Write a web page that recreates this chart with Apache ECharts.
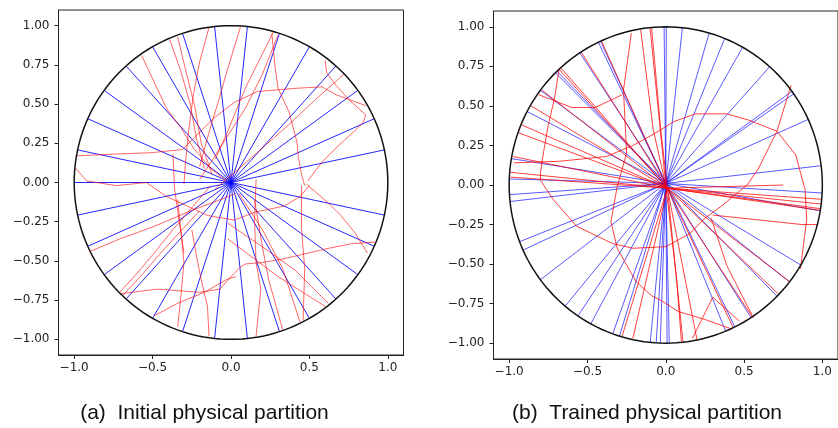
<!DOCTYPE html>
<html><head><meta charset="utf-8">
<script src="https://cdn.jsdelivr.net/npm/echarts@6/dist/echarts.min.js"></script>
<style>html,body{margin:0;padding:0;background:#fff}#c{width:838px;height:428px}</style>
</head><body><div id="c"></div>
<script>
// ---- axis ticks ----
const xTicks = [-1.0, -0.5, 0.0, 0.5, 1.0];
const yTicks = [-1.0, -0.75, -0.5, -0.25, 0.0, 0.25, 0.5, 0.75, 1.0];
const captions = ['(a)  Initial physical partition', '(b)  Trained physical partition'];

// ---- (a) initial partition ----
const leftBlueAngles = [12,24,36,48,60,72,84,96,108,120,132,144,156,168,180,192,204,216,228,240,252,264,276,288,300,312,324,336,348];
const leftBlueCenter = [0.0, 0.0];
const leftRed = [
 [[-0.99,0.17],[-0.77,0.18],[-0.51,0.19],[-0.31,0.21],[-0.22,0.30],[-0.11,0.41],[0.02,0.51],[0.17,0.58],[0.40,0.60],[0.58,0.61],[0.67,0.56],[0.86,0.49]],
 [[0.26,0.95],[0.28,0.75],[0.30,0.60],[0.37,0.45],[0.42,0.26],[0.43,0.16],[0.45,0.05],[0.47,-0.02]],
 [[0.30,0.94],[0.20,0.69],[0.09,0.47],[-0.02,0.30],[-0.12,0.14],[-0.20,0.02]],
 [[0.06,0.99],[-0.02,0.73],[-0.08,0.52],[-0.14,0.32],[-0.20,0.10]],
 [[-0.10,0.15],[-0.02,0.33],[0.10,0.62],[0.27,0.96]],
 [[0.60,0.78],[0.61,0.70],[0.67,0.62],[0.75,0.53],[0.86,0.43],[0.84,0.38],[0.78,0.32],[0.69,0.24],[0.58,0.13],[0.49,0.01]],
 [[0.72,0.69],[0.54,0.53],[0.37,0.37],[0.20,0.22],[0.03,0.07],[-0.10,-0.04]],
 [[0.48,-0.01],[0.62,-0.13],[0.70,-0.21],[0.79,-0.32],[0.87,-0.45]],
 [[0.45,-0.02],[0.45,-0.30],[0.47,-0.55],[0.46,-0.88]],
 [[0.92,-0.38],[0.77,-0.39],[0.62,-0.42],[0.45,-0.46],[0.32,-0.49],[0.20,-0.51],[0.09,-0.52],[0.06,-0.54],[0.00,-0.60],[-0.07,-0.68],[-0.20,-0.70],[-0.47,-0.68],[-0.71,-0.71]],
 [[-0.02,-0.26],[0.20,-0.41],[0.41,-0.56],[0.62,-0.77]],
 [[-0.02,-0.36],[0.30,-0.60],[0.60,-0.79]],
 [[0.05,-0.07],[0.20,-0.30],[0.33,-0.55],[0.44,-0.89]],
 [[0.15,-0.11],[0.20,-0.41],[0.24,-0.62],[0.33,-0.94]],
 [[0.16,0.02],[0.15,-0.24],[0.16,-0.51],[0.19,-0.68],[0.16,-0.98]],
 [[-0.90,-0.44],[-0.71,-0.36],[-0.49,-0.28],[-0.28,-0.19],[-0.07,-0.11],[0.03,-0.07]],
 [[-0.71,-0.70],[-0.60,-0.58],[-0.49,-0.45],[-0.37,-0.30],[-0.24,-0.15],[-0.13,-0.02]],
 [[-0.69,-0.72],[-0.56,-0.58],[-0.44,-0.44],[-0.33,-0.32],[-0.20,-0.18]],
 [[-0.49,-0.85],[-0.34,-0.77],[-0.17,-0.70],[-0.03,-0.62],[0.03,-0.60]],
 [[-0.34,-0.92],[-0.32,-0.73],[-0.30,-0.51],[-0.32,-0.30],[-0.34,-0.11]],
 [[-0.14,-0.98],[-0.15,-0.79],[-0.19,-0.62],[-0.22,-0.47],[-0.25,-0.30]],
 [[-0.99,0.09],[-0.92,0.01],[-0.73,-0.02],[-0.54,0.00],[-0.41,-0.09],[-0.28,-0.15],[-0.15,-0.21],[0.02,-0.24],[0.15,-0.19],[0.34,-0.15],[0.44,-0.09],[0.50,-0.02]],
 [[-0.57,0.81],[-0.49,0.64],[-0.41,0.47],[-0.32,0.35],[-0.24,0.22],[-0.13,0.09],[-0.03,0.01]],
 [[-0.39,0.91],[-0.32,0.71],[-0.26,0.50],[-0.22,0.28],[-0.17,0.09]],
 [[-0.34,0.93],[-0.29,0.72],[-0.23,0.48],[-0.19,0.25],[-0.12,0.05]],
 [[-0.14,0.99],[-0.20,0.77],[-0.24,0.56],[-0.27,0.33],[-0.29,0.13],[-0.30,-0.01]],
 [[-0.37,0.18],[-0.36,-0.04],[-0.33,-0.25],[-0.30,-0.45]]
];

// ---- (b) trained partition ----
const rightBlueAngles = [89.8,90.6,83.9,73.9,67.9,60.6,48.4,36.3,35.2,24.5,7.0,-2.9,-9.4,-30.4,-37.8,-44.7,-57.0,-63.8,-67.5,-89.5,-88.7,
  183.5,186.0,201.0,204.3,216.8,230.0,235.9,241.4,250.2,252.8,264.3,266.5,268.0,114.6,115.5,123.3,134.0,134.8,143.2,152.3,170.4,177.8];
const rightBlueCenter = [0.0, 0.01];
const rightRedCenter = [0.01, -0.02];
const rightRedRayEnds = [[-0.68,0.73],[-0.67,0.74],[-0.79,0.60],[-0.86,0.50],[-0.92,0.38],[-0.94,0.33],[-0.975,0.18],[-0.99,0.08],[-0.99,0.05],
  [-0.41,0.91],[-0.54,0.84],[0.99,-0.09],[0.99,-0.12],[0.99,-0.15],[0.985,-0.16],[0.79,-0.61],[0.72,-0.69],[0.55,-0.83],[0.43,-0.90],
  [-0.28,-0.96],[-0.21,-0.97],[0.20,-0.98],[0.75,0.0]];
const rightRed = [
 [[-0.97,0.14],[-0.68,0.15],[-0.38,0.18],[-0.21,0.25],[-0.08,0.32],[0.05,0.40],[0.19,0.45],[0.39,0.45],[0.53,0.41],[0.71,0.34],[0.83,0.19],[0.89,-0.03],[0.90,-0.22],[0.86,-0.53]],
 [[0.71,0.34],[0.80,0.63]],
 [[0.71,0.34],[0.59,0.10],[0.52,0.00],[0.36,-0.13],[0.25,-0.21],[0.15,-0.31],[0.00,-0.39],[-0.21,-0.40],[-0.34,-0.37],[-0.57,-0.26],[-0.72,-0.09],[-0.80,0.03],[-0.80,0.08],[-0.78,0.21],[-0.75,0.38],[-0.71,0.55],[-0.68,0.74]],
 [[-0.22,0.96],[-0.27,0.60],[-0.25,0.20],[-0.31,-0.01],[-0.35,-0.23],[-0.31,-0.40],[-0.19,-0.61],[-0.09,-0.70],[-0.03,-0.73],[0.08,-0.80],[0.25,-0.85],[0.42,-0.91]],
 [[-0.81,0.57],[-0.60,0.49],[-0.45,0.49],[-0.28,0.57]],
 [[0.30,-0.19],[0.87,-0.25],[0.97,-0.25]],
 [[0.29,-0.21],[0.39,-0.51],[0.56,-0.84]],
 [[0.30,-0.71],[0.17,-0.97]],
 [[0.30,-0.71],[0.47,-0.86]],
 [[-0.09,0.99],[-0.03,0.33],[0.01,-0.01],[0.06,-0.51],[0.11,-0.99]],
 [[-0.10,0.99],[-0.04,0.40],[0.00,0.00],[0.07,-0.60],[0.10,-0.99]],
 [[-0.16,0.98],[-0.08,0.35],[0.00,0.00]]
];

// ---- build ----
function ray(center, deg){ const a = deg*Math.PI/180; return [center, [Math.cos(a), Math.sin(a)]]; }
const circlePts = []; for (let d = 0; d <= 360; d += 2) circlePts.push([Math.cos(d*Math.PI/180), Math.sin(d*Math.PI/180)]);
const fmt = d => v => (v < -1e-9 ? '\u2212' : '') + Math.abs(v).toFixed(d);

function linesSeries(idx, coordsList, color, opacity, width, z){
  return {type:'lines', coordinateSystem:'cartesian2d', xAxisIndex:idx, yAxisIndex:idx, polyline:true,
    silent:true, z:z, data: coordsList.map(c => ({coords:c})),
    lineStyle:{color:color, width:width, opacity:opacity}};
}
function xAx(i){ return {type:'value', gridIndex:i, min:-1.1, max:1.1,
  axisLine:{show:true, onZero:false, lineStyle:{color:'#222', width:1}},
  axisTick:{show:true, customValues:xTicks, length:4, lineStyle:{color:'#222'}},
  axisLabel:{show:true, customValues:xTicks, formatter:fmt(1), color:'#222', fontSize:12, fontFamily:'DejaVu Sans', margin:7},
  splitLine:{show:false}}; }
function yAx(i){ return {type:'value', gridIndex:i, min:-1.1, max:1.1,
  axisLine:{show:true, onZero:false, lineStyle:{color:'#222', width:1}},
  axisTick:{show:true, customValues:yTicks, length:4, lineStyle:{color:'#222'}},
  axisLabel:{show:true, customValues:yTicks, formatter:fmt(2), color:'#222', fontSize:12, fontFamily:'DejaVu Sans', margin:9},
  splitLine:{show:false}}; }

const series = [
  linesSeries(0, leftBlueAngles.map(a => ray(leftBlueCenter, a)), '#0000ff', 0.85, 1, 2),
  linesSeries(0, leftRed, '#ff0000', 0.6, 1, 3),
  linesSeries(0, [circlePts], '#111', 1, 1.5, 4),
  linesSeries(1, rightBlueAngles.map(a => ray(rightBlueCenter, a)), '#0000ff', 0.65, 1, 2),
  linesSeries(1, rightRedRayEnds.map(e => [rightRedCenter, e]), '#ff0000', 0.75, 1, 3),
  linesSeries(1, rightRed, '#ff0000', 0.75, 1, 3),
  linesSeries(1, [circlePts], '#111', 1, 1.5, 4)
];

const chart = echarts.init(document.getElementById('c'), null, {renderer:'canvas'});
chart.setOption({
  animation:false, backgroundColor:'#fff',
  grid:[
    {left:58.5, top:10, width:345, height:345, show:true, borderColor:'#222', borderWidth:1, backgroundColor:'transparent'},
    {left:493.5, top:11, width:348, height:348, show:true, borderColor:'#222', borderWidth:1, backgroundColor:'transparent'}
  ],
  xAxis:[xAx(0), xAx(1)],
  yAxis:[yAx(0), yAx(1)],
  series: series,
  graphic:[
    {type:'text', x:204.5, y:413, style:{text:captions[0], fontSize:21, fontFamily:'Liberation Sans', fill:'#111', textAlign:'center', textVerticalAlign:'middle'}},
    {type:'text', x:647, y:413, style:{text:captions[1], fontSize:21, fontFamily:'Liberation Sans', fill:'#111', textAlign:'center', textVerticalAlign:'middle'}}
  ]
});
</script></body></html>
